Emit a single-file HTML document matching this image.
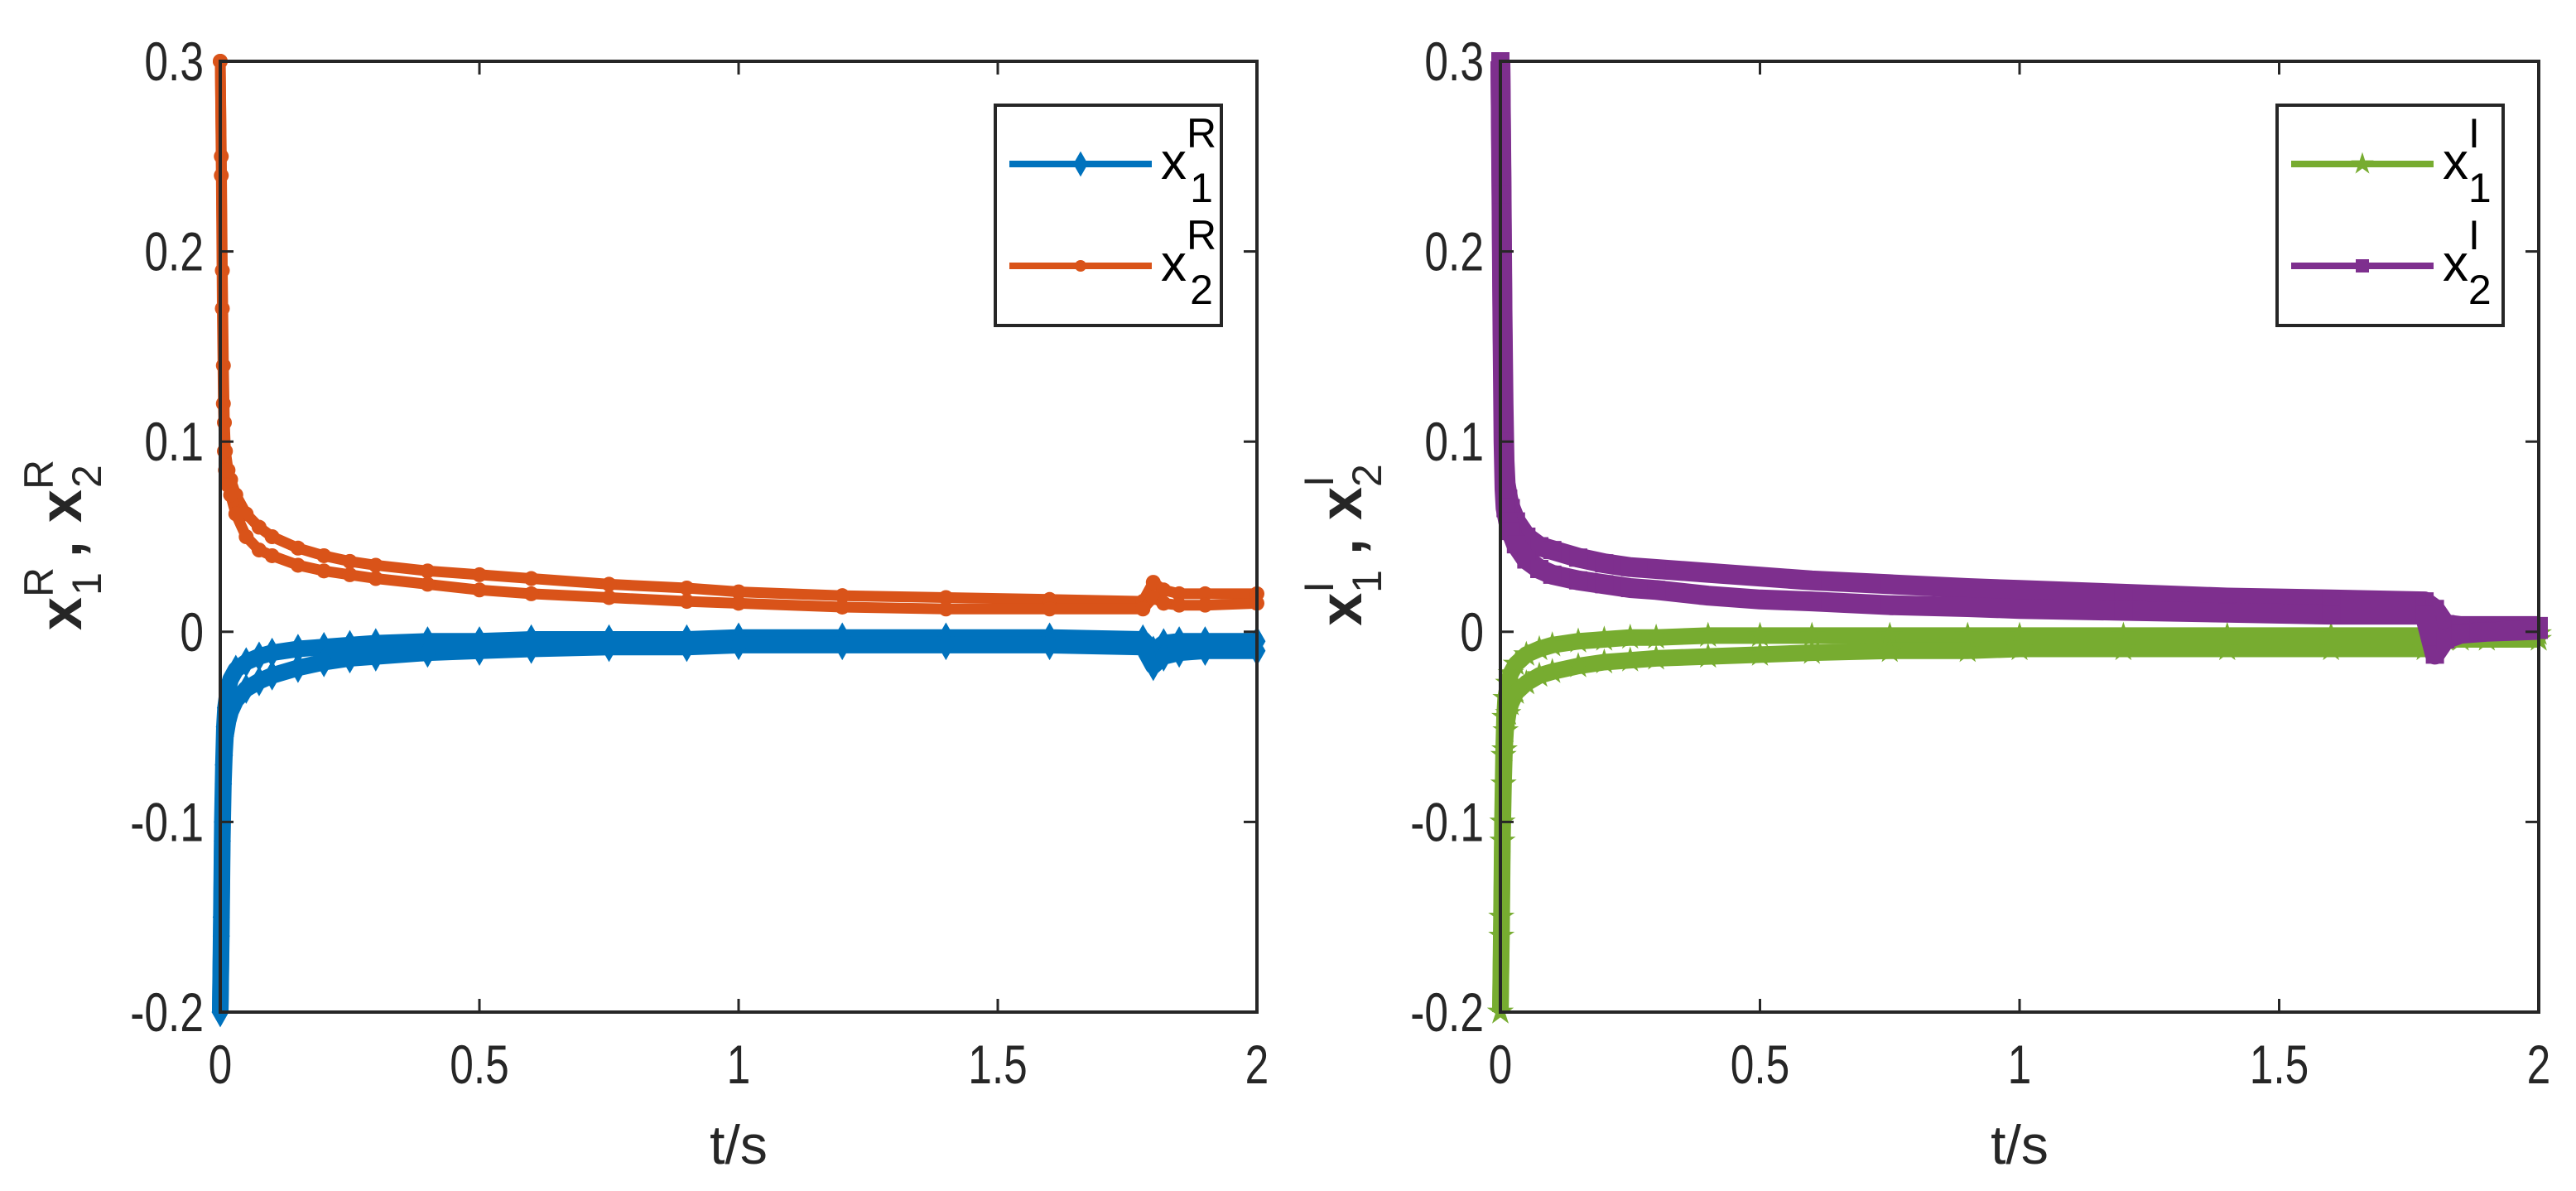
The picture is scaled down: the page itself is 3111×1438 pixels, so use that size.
<!DOCTYPE html>
<html><head><meta charset="utf-8"><style>
html,body{margin:0;padding:0;background:#fff;}
svg{display:block;font-family:"Liberation Sans",Arial,sans-serif;}
</style></head><body>
<svg id="fig" width="3111" height="1438" viewBox="0 0 3111 1438" xmlns="http://www.w3.org/2000/svg"></svg>
<script>
// ---- data ----
const tVals = [0, 0.002, 0.004, 0.006, 0.008, 0.01, 0.015, 0.02, 0.03, 0.05, 0.075, 0.1, 0.15, 0.2, 0.25, 0.3, 0.4, 0.5, 0.6, 0.75, 0.9, 1.0, 1.2, 1.4, 1.6, 1.78, 1.8, 1.82, 1.85, 1.9, 2.0];
// left plot
const xR2Upper = [0.3, 0.25, 0.19, 0.14, 0.11, 0.095, 0.085, 0.08, 0.072, 0.062, 0.055, 0.05, 0.044, 0.04, 0.037, 0.035, 0.032, 0.03, 0.028, 0.025, 0.023, 0.021, 0.019, 0.018, 0.017, 0.016, 0.026, 0.022, 0.02, 0.02, 0.02];
const xR2Lower = [0.3, 0.24, 0.17, 0.12, 0.095, 0.085, 0.077, 0.072, 0.062, 0.05, 0.043, 0.04, 0.035, 0.032, 0.03, 0.028, 0.025, 0.022, 0.02, 0.018, 0.016, 0.015, 0.013, 0.012, 0.012, 0.012, 0.018, 0.015, 0.014, 0.014, 0.015];
const xR1Upper = [-0.2, -0.15, -0.1, -0.07, -0.05, -0.04, -0.03, -0.025, -0.02, -0.016, -0.013, -0.011, -0.009, -0.008, -0.007, -0.006, -0.005, -0.005, -0.004, -0.004, -0.004, -0.003, -0.003, -0.003, -0.003, -0.004, -0.01, -0.006, -0.005, -0.005, -0.005];
const xR1Lower = [-0.2, -0.16, -0.11, -0.08, -0.065, -0.055, -0.047, -0.042, -0.036, -0.03, -0.026, -0.023, -0.019, -0.016, -0.014, -0.013, -0.011, -0.01, -0.009, -0.008, -0.008, -0.007, -0.007, -0.007, -0.007, -0.008, -0.018, -0.013, -0.011, -0.01, -0.01];
// right plot
const xI2Upper = [0.3, 0.24, 0.17, 0.12, 0.09, 0.078, 0.07, 0.065, 0.058, 0.05, 0.045, 0.043, 0.039, 0.036, 0.034, 0.033, 0.031, 0.029, 0.027, 0.025, 0.023, 0.022, 0.02, 0.018, 0.017, 0.016, 0.012, 0.004, 0.003, 0.003, 0.003];
const xI2Lower = [0.3, 0.23, 0.16, 0.1, 0.075, 0.065, 0.058, 0.053, 0.046, 0.038, 0.033, 0.03, 0.027, 0.025, 0.023, 0.022, 0.019, 0.017, 0.016, 0.014, 0.013, 0.012, 0.011, 0.01, 0.009, 0.009, -0.012, -0.004, -0.001, 0.0, 0.001];
const xI1Upper = [-0.2, -0.15, -0.1, -0.065, -0.045, -0.035, -0.027, -0.022, -0.017, -0.012, -0.009, -0.007, -0.005, -0.004, -0.003, -0.003, -0.002, -0.002, -0.002, -0.002, -0.002, -0.002, -0.002, -0.002, -0.002, -0.002, 0.006, 0.0, -0.001, -0.001, -0.001];
const xI1Lower = [-0.2, -0.16, -0.11, -0.08, -0.062, -0.052, -0.043, -0.038, -0.032, -0.027, -0.023, -0.021, -0.018, -0.016, -0.015, -0.014, -0.013, -0.012, -0.011, -0.01, -0.01, -0.009, -0.009, -0.009, -0.009, -0.009, -0.002, -0.004, -0.004, -0.004, -0.004];
const xTicks = [0, 0.5, 1, 1.5, 2];
const xTickLabels = ["0", "0.5", "1", "1.5", "2"];
const yTicks = [-0.2, -0.1, 0, 0.1, 0.2, 0.3];
const yTickLabels = ["-0.2", "-0.1", "0", "0.1", "0.2", "0.3"];

const NS = "http://www.w3.org/2000/svg";
const svg = document.getElementById('fig');
function mk(tag, attrs, parent) {
  const e = document.createElementNS(NS, tag);
  for (const k in attrs) e.setAttribute(k, attrs[k]);
  (parent || svg).appendChild(e);
  return e;
}
const AX = "#262626";
const TOP = 74, BOT = 1222;

function markerPath(type, x, y, s) {
  if (type === 'diamond') return `M${x},${y-s*1.4}L${x+s*0.8},${y}L${x},${y+s*1.4}L${x-s*0.8},${y}Z`;
  if (type === 'square') return `M${x-s},${y-s}h${2*s}v${2*s}h${-2*s}Z`;
  if (type === 'star') {
    let d = '';
    for (let i = 0; i < 10; i++) {
      const r = i % 2 ? s * 0.45 : s * 1.2;
      const a = -Math.PI / 2 + i * Math.PI / 5;
      d += (i ? 'L' : 'M') + (x + r * Math.cos(a)).toFixed(1) + ',' + (y + r * Math.sin(a)).toFixed(1);
    }
    return d + 'Z';
  }
  return `M${x-s},${y}a${s},${s} 0 1,0 ${2*s},0a${s},${s} 0 1,0 ${-2*s},0`;
}

function drawPlot(cfg) {
  const L = cfg.left, R = cfg.right;
  const sx = v => L + (v - 0) / 2 * (R - L);
  const sy = v => BOT - (v + 0.2) / 0.5 * (BOT - TOP);
  const g = mk('g', {});
  
  
  cfg.series.forEach(s => {
    const sg = mk('g', {}, g);
    
    
    [s.upper, s.lower].forEach(arr => {
      const pts = tVals.map((t, i) => sx(t).toFixed(1) + ',' + sy(arr[i]).toFixed(1)).join(' ');
      const pl = mk('polyline', {points: pts, fill: 'none', stroke: s.color, 'stroke-width': s.width, 'stroke-linejoin': 'round'}, sg);
      
      
      tVals.forEach((t, i) => {
        const m = mk('path', {d: markerPath(s.marker, sx(t), sy(arr[i]), s.msize), fill: s.color}, sg);
        
        
      });
    });
  });
  const box = mk('rect', {x: L, y: TOP, width: R - L, height: BOT - TOP, fill: 'none', stroke: AX, 'stroke-width': 4}, g);
  
  
  xTicks.forEach((v, i) => {
    const x = sx(v);
    const t1 = mk('line', {x1: x, x2: x, y1: BOT, y2: BOT - 16, stroke: AX, 'stroke-width': 3}, g);
    
    
    const t2 = mk('line', {x1: x, x2: x, y1: TOP, y2: TOP + 16, stroke: AX, 'stroke-width': 3}, g);
    
    
    const lb = mk('text', {x: x, y: BOT + 86, 'font-size': 66, fill: AX, 'text-anchor': 'middle', transform: `translate(${x},0) scale(0.78,1) translate(${-x},0)`}, g);
    lb.textContent = xTickLabels[i];
    
    
  });
  yTicks.forEach((v, i) => {
    const y = sy(v);
    const t1 = mk('line', {x1: L, x2: L + 16, y1: y, y2: y, stroke: AX, 'stroke-width': 3}, g);
    
    
    const t2 = mk('line', {x1: R, x2: R - 16, y1: y, y2: y, stroke: AX, 'stroke-width': 3}, g);
    
    
    const tx = L - 20;
    const lb = mk('text', {x: tx, y: y + 23, 'font-size': 66, fill: AX, 'text-anchor': 'end', transform: `translate(${tx},0) scale(0.78,1) translate(${-tx},0)`}, g);
    lb.textContent = yTickLabels[i];
    
    
  });
  const xl = mk('text', {x: (L + R) / 2, y: 1405, 'font-size': 66, fill: AX, 'text-anchor': 'middle'}, g);
  xl.textContent = 't/s';
  
  
  const yl = mk('text', {x: 0, y: 0, 'font-size': 72, fill: AX, 'font-weight': 'bold', transform: `translate(${L - 168},${(TOP + BOT) / 2 + 10}) rotate(-90)`, 'text-anchor': 'middle'}, g);
  yl.innerHTML = `x<tspan dy="-34" font-size="50" font-weight="normal">${cfg.sup}</tspan><tspan dx="${-cfg.supW}" dy="58" font-size="50" font-weight="normal">1</tspan><tspan dx="18" dy="-24">,</tspan><tspan dx="22">x</tspan><tspan dy="-34" font-size="50" font-weight="normal">${cfg.sup}</tspan><tspan dx="${-cfg.supW}" dy="58" font-size="50" font-weight="normal">2</tspan>`;
  
  
  const lg = mk('g', {}, g);
  
  
  const lx = R - 316, ly = 127;
  const lr = mk('rect', {x: lx, y: ly, width: 273, height: 266, fill: '#fff', stroke: AX, 'stroke-width': 4}, lg);
  
  
  cfg.series.forEach((s, i) => {
    const y = ly + 71 + i * 123;
    const ent = mk('g', {}, lg);
    
    
    mk('line', {x1: lx + 17, x2: lx + 189, y1: y, y2: y, stroke: s.color, 'stroke-width': 8}, ent);
    mk('path', {d: markerPath(s.marker, lx + 103, y, s.legendSize), fill: s.color}, ent);
    const tx = mk('text', {x: lx + 200, y: y + 18, 'font-size': 62, fill: '#000'}, ent);
    tx.innerHTML = `x<tspan dy="-38" font-size="50">${cfg.sup}</tspan><tspan dx="${cfg.sup === 'I' ? -14 : -32}" dy="66" font-size="50">${i + 1}</tspan>`;
  });
}

drawPlot({name: 'left-chart', left: 266, right: 1518, sup: 'R', supW: 34, series: [
  {name: 'series-x1R', upper: xR1Upper, lower: xR1Lower, color: '#0072BD', width: 20, marker: 'diamond', msize: 13, legendSize: 11},
  {name: 'series-x2R', upper: xR2Upper, lower: xR2Lower, color: '#D95319', width: 13, marker: 'dot', msize: 9, legendSize: 7}
]});
drawPlot({name: 'right-chart', left: 1812, right: 3066, sup: 'I', supW: 14, series: [
  {name: 'series-x1I', upper: xI1Upper, lower: xI1Lower, color: '#77AC30', width: 20, marker: 'star', msize: 14, legendSize: 12},
  {name: 'series-x2I', upper: xI2Upper, lower: xI2Lower, color: '#7E2F8E', width: 24, marker: 'square', msize: 11, legendSize: 8}
]});
</script>
</body></html>
